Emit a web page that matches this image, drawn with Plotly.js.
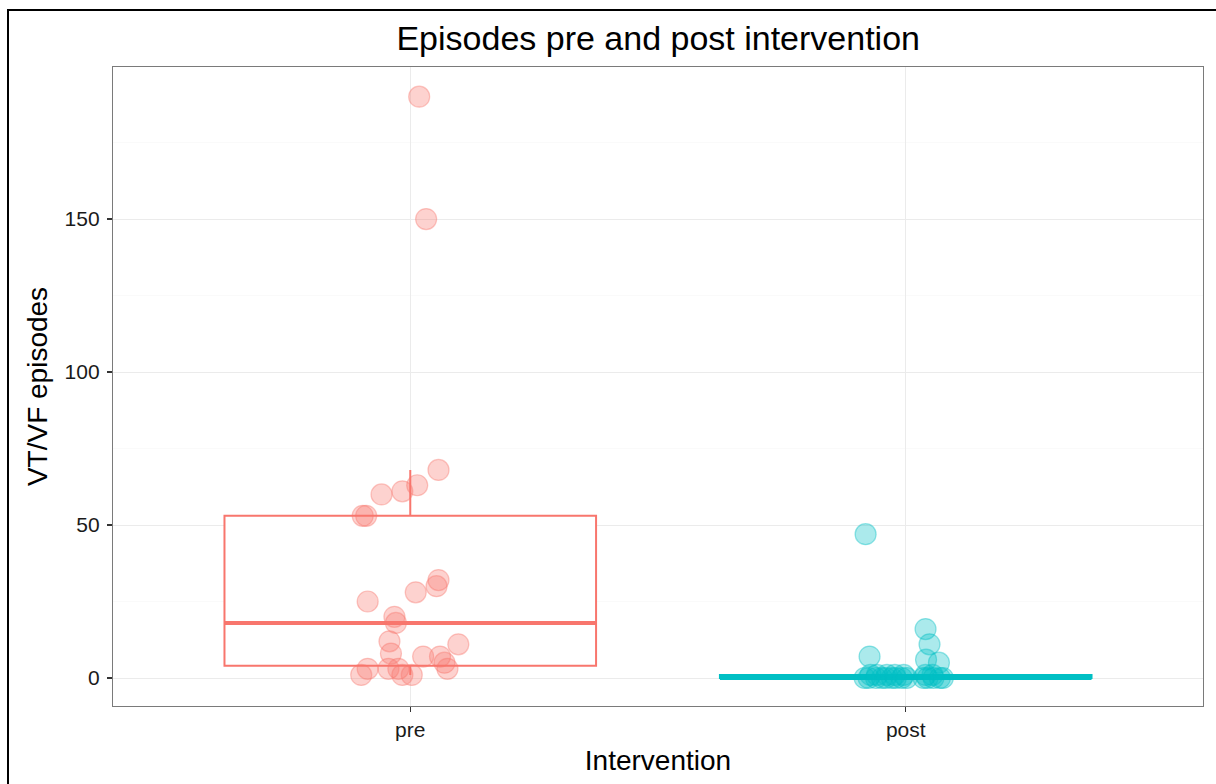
<!DOCTYPE html>
<html>
<head>
<meta charset="utf-8">
<script src="https://cdn.plot.ly/plotly-3.0.1.min.js"></script>
<style>
  html, body { margin: 0; padding: 0; background: #ffffff; }
  #wrap { position: relative; width: 1216px; height: 784px; overflow: hidden; }
  #chart { position: absolute; left: 0; top: 0; width: 1216px; height: 784px; }
  #frame { position: absolute; left: 7px; top: 9px; width: 1216px; height: 784px;
           border-left: 2px solid #000; border-top: 2px solid #000; pointer-events: none; }
</style>
</head>
<body>
<div id="wrap">
  <div id="chart"></div>
  <div id="frame"></div>
</div>
<script>
// ---- data ----
const categories = ["pre", "post"];
const categoryPos = [1, 2];

const preValues = [190, 150, 68, 63, 61, 60, 53, 53, 32, 30, 28, 25, 20, 18, 12, 11, 8, 7, 7, 5, 3, 3, 3, 3, 1, 1, 1];
const preJitter = [0.018, 0.032, 0.057, 0.014, -0.016, -0.058, -0.096, -0.089, 0.057, 0.053, 0.011, -0.086, -0.032, -0.029, -0.042, 0.097, -0.039, 0.026, 0.060, 0.069, 0.075, -0.086, -0.044, -0.024, -0.099, -0.016, 0.003];

const postValues = [47, 16, 11, 7, 6, 5,
                    1, 1, 1, 1, 1, 1, 1,
                    0, 0, 0, 0, 0, 0, 0, 0, 0, 0, 0, 0, 0, 0];
const postJitter = [-0.081, 0.040, 0.048, -0.073, 0.041, 0.067,
                    -0.071, -0.058, -0.038, -0.022, -0.004, 0.040, 0.054,
                    -0.083, -0.075, -0.060, -0.048, -0.040, -0.028, -0.020, -0.008, 0.002, 0.036, 0.044, 0.056, 0.069, 0.075];

const yTickVals = [0, 50, 100, 150];
const yMinorVals = [25, 75, 125, 175];
const colors = ["#F8766D", "#00BFC4"];
const pointFill = ["rgba(248,118,109,0.33)", "rgba(0,191,196,0.33)"];
const pointLine = ["rgba(248,118,109,0.42)", "rgba(0,191,196,0.42)"];
const boxWidth = 0.75;

// ---- box statistics (R type-7 quantiles, Tukey whiskers) ----
function quantile(sorted, p) {
  const h = (sorted.length - 1) * p;
  const lo = Math.floor(h), hi = Math.ceil(h);
  return sorted[lo] + (h - lo) * (sorted[hi] - sorted[lo]);
}
function boxStats(vals) {
  const s = vals.slice().sort((a, b) => a - b);
  const q1 = quantile(s, 0.25), med = quantile(s, 0.5), q3 = quantile(s, 0.75);
  const iqr = q3 - q1;
  const lf = Math.min(...s.filter(v => v >= q1 - 1.5 * iqr));
  const uf = Math.max(...s.filter(v => v <= q3 + 1.5 * iqr));
  return { q1, med, q3, lf, uf };
}

const groups = [
  { vals: preValues, jit: preJitter },
  { vals: postValues, jit: postJitter }
];

const traces = [];
groups.forEach((g, i) => {
  const st = boxStats(g.vals);
  traces.push({
    type: "box",
    x: [categoryPos[i]],
    q1: [st.q1], median: [st.med], q3: [st.q3],
    lowerfence: [st.lf], upperfence: [st.uf],
    width: boxWidth,
    whiskerwidth: 0,
    boxpoints: false,
    line: { color: colors[i], width: 2 },
    fillcolor: "#ffffff",
    showlegend: false,
    hoverinfo: "skip"
  });
  traces.push({
    type: "scatter", mode: "lines",
    x: [categoryPos[i] - boxWidth / 2, categoryPos[i] + boxWidth / 2],
    y: [st.med, st.med],
    line: { color: colors[i], width: 4 },
    showlegend: false, hoverinfo: "skip"
  });
});
groups.forEach((g, i) => {
  traces.push({
    type: "scatter", mode: "markers",
    x: g.jit.map(j => categoryPos[i] + j),
    y: g.vals,
    marker: { size: 21, color: pointFill[i], line: { color: pointLine[i], width: 1.2 } },
    showlegend: false, hoverinfo: "skip"
  });
});

const layout = {
  width: 1216, height: 784,
  margin: { l: 113, r: 13, t: 67, b: 78 },
  paper_bgcolor: "rgba(0,0,0,0)",
  plot_bgcolor: "#ffffff",
  font: { family: "Liberation Sans, Arial, sans-serif", color: "#000000" },
  title: {
    text: "Episodes pre and post intervention",
    font: { size: 34, color: "#000000" },
    x: 0.5413, xanchor: "center", y: 0.9515, yanchor: "middle"
  },
  hovermode: false,
  xaxis: {
    range: [0.4, 2.6],
    tickmode: "array", tickvals: categoryPos, ticktext: categories,
    ticks: "outside", ticklen: 5, tickcolor: "#333333", tickwidth: 1.2,
    tickfont: { size: 21, color: "#1a1a1a" },
    showgrid: true, gridcolor: "#ebebeb", gridwidth: 1,
    zeroline: false,
    showline: true, mirror: true, linecolor: "#7a7a7a", linewidth: 1.2,
    title: { text: "Intervention", font: { size: 28, color: "#000000" }, standoff: 10 }
  },
  yaxis: {
    range: [-9.15, 199.7],
    tickmode: "array", tickvals: yTickVals,
    ticks: "outside", ticklen: 5, tickcolor: "#333333", tickwidth: 1.2,
    ticklabelstandoff: 3,
    tickfont: { size: 21, color: "#1a1a1a" },
    showgrid: true, gridcolor: "#ebebeb", gridwidth: 1,
    minor: { tickmode: "array", tickvals: yMinorVals, showgrid: true, gridcolor: "#f6f6f6", gridwidth: 0.6, ticks: "" },
    zeroline: false,
    showline: true, mirror: true, linecolor: "#7a7a7a", linewidth: 1.2,
    title: { text: "VT/VF episodes", font: { size: 28, color: "#000000" }, standoff: 8 }
  }
};

Plotly.newPlot("chart", traces, layout, { displayModeBar: false, staticPlot: true });
</script>
</body>
</html>
